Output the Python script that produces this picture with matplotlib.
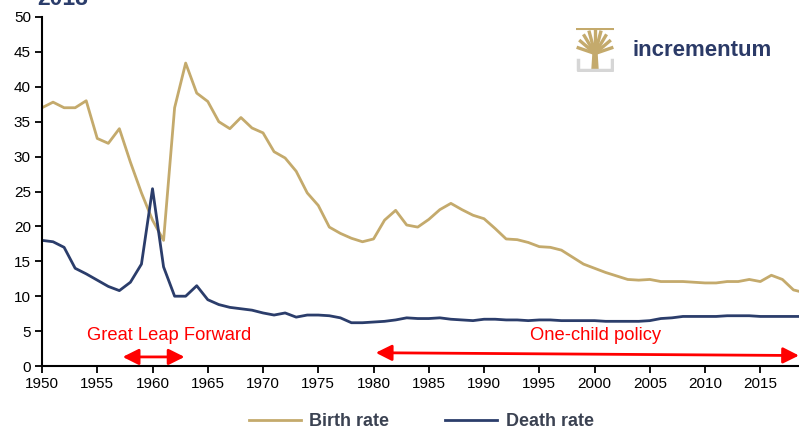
import numpy as np
import matplotlib
matplotlib.use("Agg")
import matplotlib.pyplot as plt

plt.rcParams["font.family"] = ["Liberation Sans", "DejaVu Sans"]

# Crude birth and death rates in China, per 1,000 people
years = list(range(1950, 2020))
birth_rate = [37.0, 37.8, 37.0, 37.0, 38.0, 32.6, 31.9, 34.0, 29.2, 24.8,
              20.9, 18.0, 37.0, 43.4, 39.1, 37.9, 35.0, 34.0, 35.6, 34.1,
              33.4, 30.7, 29.8, 27.9, 24.8, 23.0, 19.9, 19.0, 18.3, 17.8,
              18.2, 20.9, 22.3, 20.2, 19.9, 21.0, 22.4, 23.3, 22.4, 21.6,
              21.1, 19.7, 18.2, 18.1, 17.7, 17.1, 17.0, 16.6, 15.6, 14.6,
              14.0, 13.4, 12.9, 12.4, 12.3, 12.4, 12.1, 12.1, 12.1, 12.0,
              11.9, 11.9, 12.1, 12.1, 12.4, 12.1, 13.0, 12.4, 10.9, 10.5]
death_rate = [18.0, 17.8, 17.0, 14.0, 13.2, 12.3, 11.4, 10.8, 12.0, 14.6,
              25.4, 14.2, 10.0, 10.0, 11.5, 9.5, 8.8, 8.4, 8.2, 8.0,
              7.6, 7.3, 7.6, 7.0, 7.3, 7.3, 7.2, 6.9, 6.2, 6.2,
              6.3, 6.4, 6.6, 6.9, 6.8, 6.8, 6.9, 6.7, 6.6, 6.5,
              6.7, 6.7, 6.6, 6.6, 6.5, 6.6, 6.6, 6.5, 6.5, 6.5,
              6.5, 6.4, 6.4, 6.4, 6.4, 6.5, 6.8, 6.9, 7.1, 7.1,
              7.1, 7.1, 7.2, 7.2, 7.2, 7.1, 7.1, 7.1, 7.1, 7.1]

gold = "#c4aa6c"
navy = "#2b3d6b"
red = "#ff0000"

fig = plt.figure(figsize=(7.99, 4.30), dpi=100)
ax = fig.add_axes([42 / 799, 1 - 366 / 430, 1 - 42 / 799, (366 - 17) / 430])

ax.plot(years, birth_rate, color=gold, lw=2.0, label="Birth rate")
ax.plot(years, death_rate, color=navy, lw=2.0, label="Death rate")

ax.set_xlim(1950, 2018.5)
ax.set_ylim(0, 50)
ax.set_xticks(range(1950, 2016, 5))
ax.set_yticks(range(0, 51, 5))
ax.tick_params(axis="both", direction="out", length=5, width=1.3,
               labelsize=11, colors="black", pad=3)
for side in ["top", "right"]:
    ax.spines[side].set_visible(False)
for side in ["left", "bottom"]:
    ax.spines[side].set_linewidth(1.5)
    ax.spines[side].set_color("black")

# Policy periods
arrow = dict(arrowstyle="<|-|>", color=red, lw=2, mutation_scale=24,
             shrinkA=0, shrinkB=0)
ax.annotate("", xy=(1957.3, 1.3), xytext=(1962.9, 1.3), arrowprops=arrow)
ax.text(1961.5, 4.4, "Great Leap Forward", color=red, fontsize=13.2,
        ha="center", va="center")
ax.annotate("", xy=(1980.2, 1.9), xytext=(2018.5, 1.5), arrowprops=arrow,
            annotation_clip=False)
ax.text(2000.1, 4.3, "One-child policy", color=red, fontsize=13.2,
        ha="center", va="center")

leg = fig.legend(loc="center", bbox_to_anchor=(0.527, 0.019), ncol=2,
                 frameon=False, handlelength=2.9, handletextpad=0.45,
                 columnspacing=3.1, prop=dict(size=13, weight="bold"))
for t in leg.get_texts():
    t.set_color("#3b4252")

# Title remnant along the top edge
fig.text(37 / 799, 1 - 5 / 430, "2018", color=navy, fontsize=16.5,
         weight="bold", va="baseline", ha="left")

# Logo: stylised tree and wordmark
lax = fig.add_axes([576 / 799, 1 - 72 / 430, 38 / 799, 44 / 430])
lax.set_xlim(0, 1)
lax.set_ylim(0, 1)
lax.axis("off")
lax.plot([0.06, 0.06, 0.94, 0.94], [0.28, 0.04, 0.04, 0.28], color="#d6d6d6", lw=2.5)
lax.fill([0.42, 0.58, 0.55, 0.45], [0.05, 0.05, 0.45, 0.45], color=gold)
for ang in np.linspace(15, 165, 9):
    r = np.deg2rad(ang)
    lax.plot([0.5, 0.5 + 0.5 * np.cos(r)], [0.42, 0.42 + 0.55 * np.sin(r)],
             color=gold, lw=2.4, solid_capstyle="butt")
lax.plot([0.03, 0.97], [0.98, 0.98], color=gold, lw=1.5)
fig.text(632 / 799, 1 - 51 / 430, "incrementum", color="#2b3a67", fontsize=16,
         weight="bold", va="center", ha="left")

fig.savefig("out.png", dpi=100)
